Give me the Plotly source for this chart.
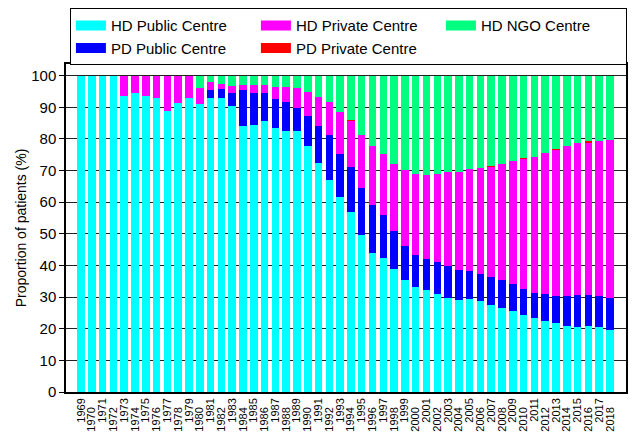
import plotly.graph_objects as go

years = list(range(1969, 2019))

hd_public = [100, 100, 100, 100, 93.7, 94.4, 93.7, 93.0, 89.0, 91.4,
             92.8, 90.9, 93.0, 92.8, 90.5, 84.2, 84.5, 85.8, 83.5, 82.4,
             82.6, 77.9, 72.5, 67.1, 61.8, 56.9, 49.5, 44.1, 42.4, 38.8,
             35.3, 33.2, 32.2, 30.9, 29.8, 29.2, 29.3, 28.8, 27.4, 26.5,
             25.6, 24.5, 23.3, 22.3, 21.7, 21.0, 20.7, 21.0, 20.4, 19.6]

pd_public = [0, 0, 0, 0, 0, 0, 0, 0, 0, 0,
             0, 0, 2.6, 3.1, 3.9, 11.3, 9.9, 8.8, 9.2, 9.4,
             7.1, 9.4, 11.5, 14.0, 13.5, 14.1, 14.9, 14.9, 13.6, 12.0,
             10.8, 10.0, 10.0, 10.3, 9.9, 9.5, 8.9, 8.6, 8.9, 8.8,
             8.6, 8.0, 8.1, 8.6, 8.7, 9.4, 9.9, 9.8, 10.0, 10.2]

hd_private = [0, 0, 0, 0, 6.3, 5.6, 6.3, 7.0, 11.0, 8.6,
              7.2, 5.2, 2.4, 1.5, 2.4, 1.7, 2.8, 2.6, 3.6, 4.7,
              6.3, 7.7, 9.4, 10.7, 13.3, 14.8, 17.0, 18.7, 19.3, 21.3,
              24.2, 25.8, 26.5, 27.8, 29.7, 30.7, 32.4, 33.5, 35.0, 36.8,
              38.7, 41.2, 43.0, 44.7, 46.3, 47.3, 48.2, 48.2, 48.8, 50.0]

pd_private = [0, 0, 0, 0, 0, 0, 0, 0, 0, 0,
              0, 0, 0, 0, 0, 0, 0, 0, 0, 0,
              0, 0, 0, 0, 0, 0.3, 0, 0, 0, 0,
              0, 0, 0, 0, 0, 0, 0, 0, 0.2, 0,
              0, 0.2, 0, 0, 0.2, 0, 0, 0.2, 0, 0]

hd_ngo = [0, 0, 0, 0, 0, 0, 0, 0, 0, 0,
          0, 3.9, 2.0, 2.6, 3.2, 2.8, 2.8, 2.8, 3.7, 3.5,
          4.0, 5.0, 6.6, 8.2, 11.4, 13.9, 18.6, 22.3, 24.7, 27.9,
          29.7, 31.0, 31.3, 31.0, 30.6, 30.6, 29.4, 29.1, 28.5, 27.9,
          27.1, 26.1, 25.6, 24.4, 23.1, 22.3, 21.2, 20.8, 20.8, 20.2]

tick_vals = [0, 10, 20, 30, 40, 50, 60, 70, 80, 90, 100]
even_years = years[0::2]
odd_years = years[1::2]

FONT = "Liberation Sans, Arial, sans-serif"

# stacking order (bottom to top)
stack = [
    ("HD Public Centre", hd_public, "#00FFFF"),
    ("PD Public Centre", pd_public, "#0000FF"),
    ("HD Private Centre", hd_private, "#FF00FF"),
    ("PD Private Centre", pd_private, "#FF0000"),
    ("HD NGO Centre", hd_ngo, "#00FF80"),
]
colors = {n: c for n, _, c in stack}
legend_order = ["HD Public Centre", "HD Private Centre", "HD NGO Centre",
                "PD Public Centre", "PD Private Centre"]

fig = go.Figure()
for name, vals, col in stack:
    fig.add_trace(go.Bar(x=years, y=vals, name=name, marker_color=col,
                         marker_line_width=0, showlegend=False))

for name in legend_order:
    fig.add_trace(go.Scatter(x=[None], y=[None], mode="lines", name=name,
                             line=dict(color=colors[name], width=12)))

# helper trace so the second (odd-year label) x axis is drawn
fig.add_trace(go.Scatter(x=[None], y=[None], xaxis="x2", showlegend=False,
                         hoverinfo="skip"))

xrange = [years[0] - 1.39, years[-1] + 1.48]

fig.update_layout(
    width=635, height=440,
    margin=dict(l=66, r=9, t=64, b=48, autoexpand=False),
    barmode="stack", bargap=0.3,
    plot_bgcolor="white", paper_bgcolor="white",
    font=dict(family=FONT, color="black"),
    legend=dict(orientation="h", traceorder="normal",
                x=0.007, y=1.17, xanchor="left", yanchor="top",
                bordercolor="black", borderwidth=1, font=dict(size=15),
                entrywidthmode="pixels", entrywidth=140, tracegroupgap=0),
    xaxis=dict(range=xrange, tickangle=-90, automargin=False,
               tickmode="array", tickvals=even_years, ticktext=[str(y) for y in even_years],
               tickfont=dict(size=11), showline=True, linecolor="black",
               linewidth=1.5, mirror=True, ticks="", showgrid=False, zeroline=False),
    xaxis2=dict(range=xrange, overlaying="x", side="bottom", anchor="y",
                tickangle=-90, automargin=False, ticklabelstandoff=12,
                tickmode="array", tickvals=odd_years, ticktext=[str(y) for y in odd_years],
                tickfont=dict(size=11), showline=False, ticks="", showgrid=False,
                zeroline=False),
    yaxis=dict(range=[0, 103.7], tickvals=tick_vals, tickfont=dict(size=15),
               showline=True, linecolor="black", linewidth=1.5, mirror=True,
               ticks="outside", ticklen=5, tickcolor="black", automargin=False,
               showgrid=True, gridcolor="#222222", gridwidth=1, zeroline=False,
               title=dict(text="Proportion of patients (%)", font=dict(size=14),
                          standoff=1)),
)

fig.write_html("out.html", config={"displayModeBar": False},
               post_script="document.body.style.margin='0';")
